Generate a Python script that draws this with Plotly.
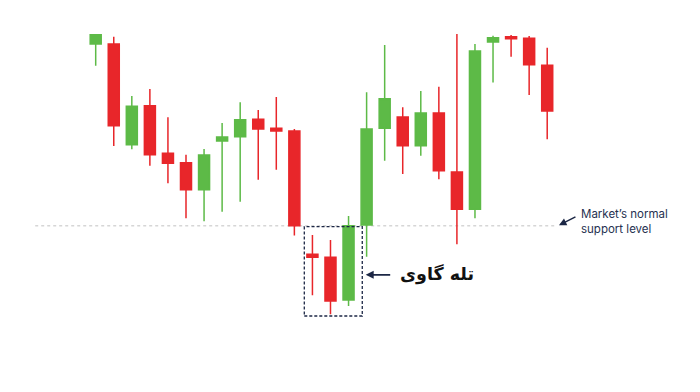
import plotly.graph_objects as go

# Candle index (time step)
candles = list(range(26))

# OHLC values (arbitrary price units)
open_ = [348.0, 348.0, 247.3, 286.3, 238.7, 229.3, 202.3, 251.0, 255.3, 272.7,
         263.7, 261.0, 137.7, 134.7, 92.0, 167.0, 263.7, 275.0, 246.3, 279.0,
         220.0, 182.7, 350.0, 355.3, 353.7, 326.7]
high = [357.5, 355.3, 296.0, 303.0, 274.7, 237.3, 243.0, 269.0, 289.7, 282.0,
        295.0, 263.0, 157.0, 152.0, 176.0, 299.7, 347.0, 284.7, 301.0, 305.3,
        358.0, 348.0, 356.3, 357.0, 356.0, 344.3]
low = [326.3, 246.0, 242.7, 226.3, 208.7, 173.7, 170.7, 180.3, 190.3, 212.3,
       222.3, 156.5, 96.7, 77.7, 86.0, 135.3, 231.3, 218.0, 236.3, 212.7,
       147.7, 173.7, 309.5, 335.3, 297.0, 252.7]
close = [357.3, 266.3, 285.7, 237.3, 228.7, 202.3, 237.0, 255.0, 272.3, 263.0,
         261.0, 166.3, 134.7, 91.0, 166.3, 263.0, 293.3, 246.3, 279.0, 221.3,
         182.7, 341.0, 354.3, 353.3, 327.3, 281.0]

support_level = 166.3
trap_candles = [12, 13, 14]
trap_low = 76.0

RED = "#E8262A"
GREEN = "#5DBA47"
NAVY = "#1C2745"

fig = go.Figure()
fig.add_trace(go.Candlestick(
    x=candles, open=open_, high=high, low=low, close=close,
    increasing=dict(line=dict(color=GREEN, width=1.5), fillcolor=GREEN),
    decreasing=dict(line=dict(color=RED, width=1.5), fillcolor=RED),
    whiskerwidth=0,
    showlegend=False,
    hoverinfo="skip",
))

# Market's normal support level (dotted)
fig.add_shape(type="line", x0=-3.35, x1=25.5, y0=support_level, y1=support_level,
              line=dict(color="#D6D6D6", width=1.5, dash="dot"), layer="below")

# Dashed box around the bull-trap candles
fig.add_shape(type="rect", x0=trap_candles[0] - 0.45, x1=trap_candles[-1] + 0.76,
              y0=trap_low, y1=support_level - 1,
              line=dict(color=NAVY, width=1.3, dash="3px,2px"), fillcolor="rgba(0,0,0,0)")

# Arrow + Persian label
label_y = (support_level + trap_low) / 2 - 4
fig.add_annotation(x=trap_candles[-1] + 0.95, y=label_y, ax=26, ay=0,
                   axref="pixel", ayref="pixel", text="", showarrow=True,
                   arrowhead=2, arrowsize=1, arrowwidth=1.6, arrowcolor=NAVY)
fig.add_annotation(x=trap_candles[-1] + 2.75, y=label_y, text="<b>تله گاوی</b>",
                   showarrow=False, xanchor="left", yanchor="middle",
                   font=dict(family="DejaVu Sans", size=17.5, color="#111111"))

# Arrow + English label for the support level
fig.add_annotation(x=25.65, y=support_level + 0.5, ax=18, ay=-9,
                   axref="pixel", ayref="pixel", text="", showarrow=True,
                   arrowhead=2, arrowsize=1, arrowwidth=1.5, arrowcolor=NAVY)
fig.add_annotation(x=26.75, y=support_level + 4.5, text="Market’s normal<br>support level",
                   showarrow=False, xanchor="left", yanchor="middle", align="left",
                   font=dict(family="Inter", size=11.5, color="#263150"))

fig.update_layout(
    width=700, height=392,
    margin=dict(l=0, r=0, t=0, b=0),
    paper_bgcolor="white", plot_bgcolor="white",
    boxgap=0.39, boxgroupgap=0,
    xaxis=dict(range=[-5.299, 33.46], visible=False, rangeslider=dict(visible=False),
               fixedrange=True),
    yaxis=dict(range=[0, 392], visible=False, fixedrange=True),
    showlegend=False,
)

fig.write_html("out.html")
